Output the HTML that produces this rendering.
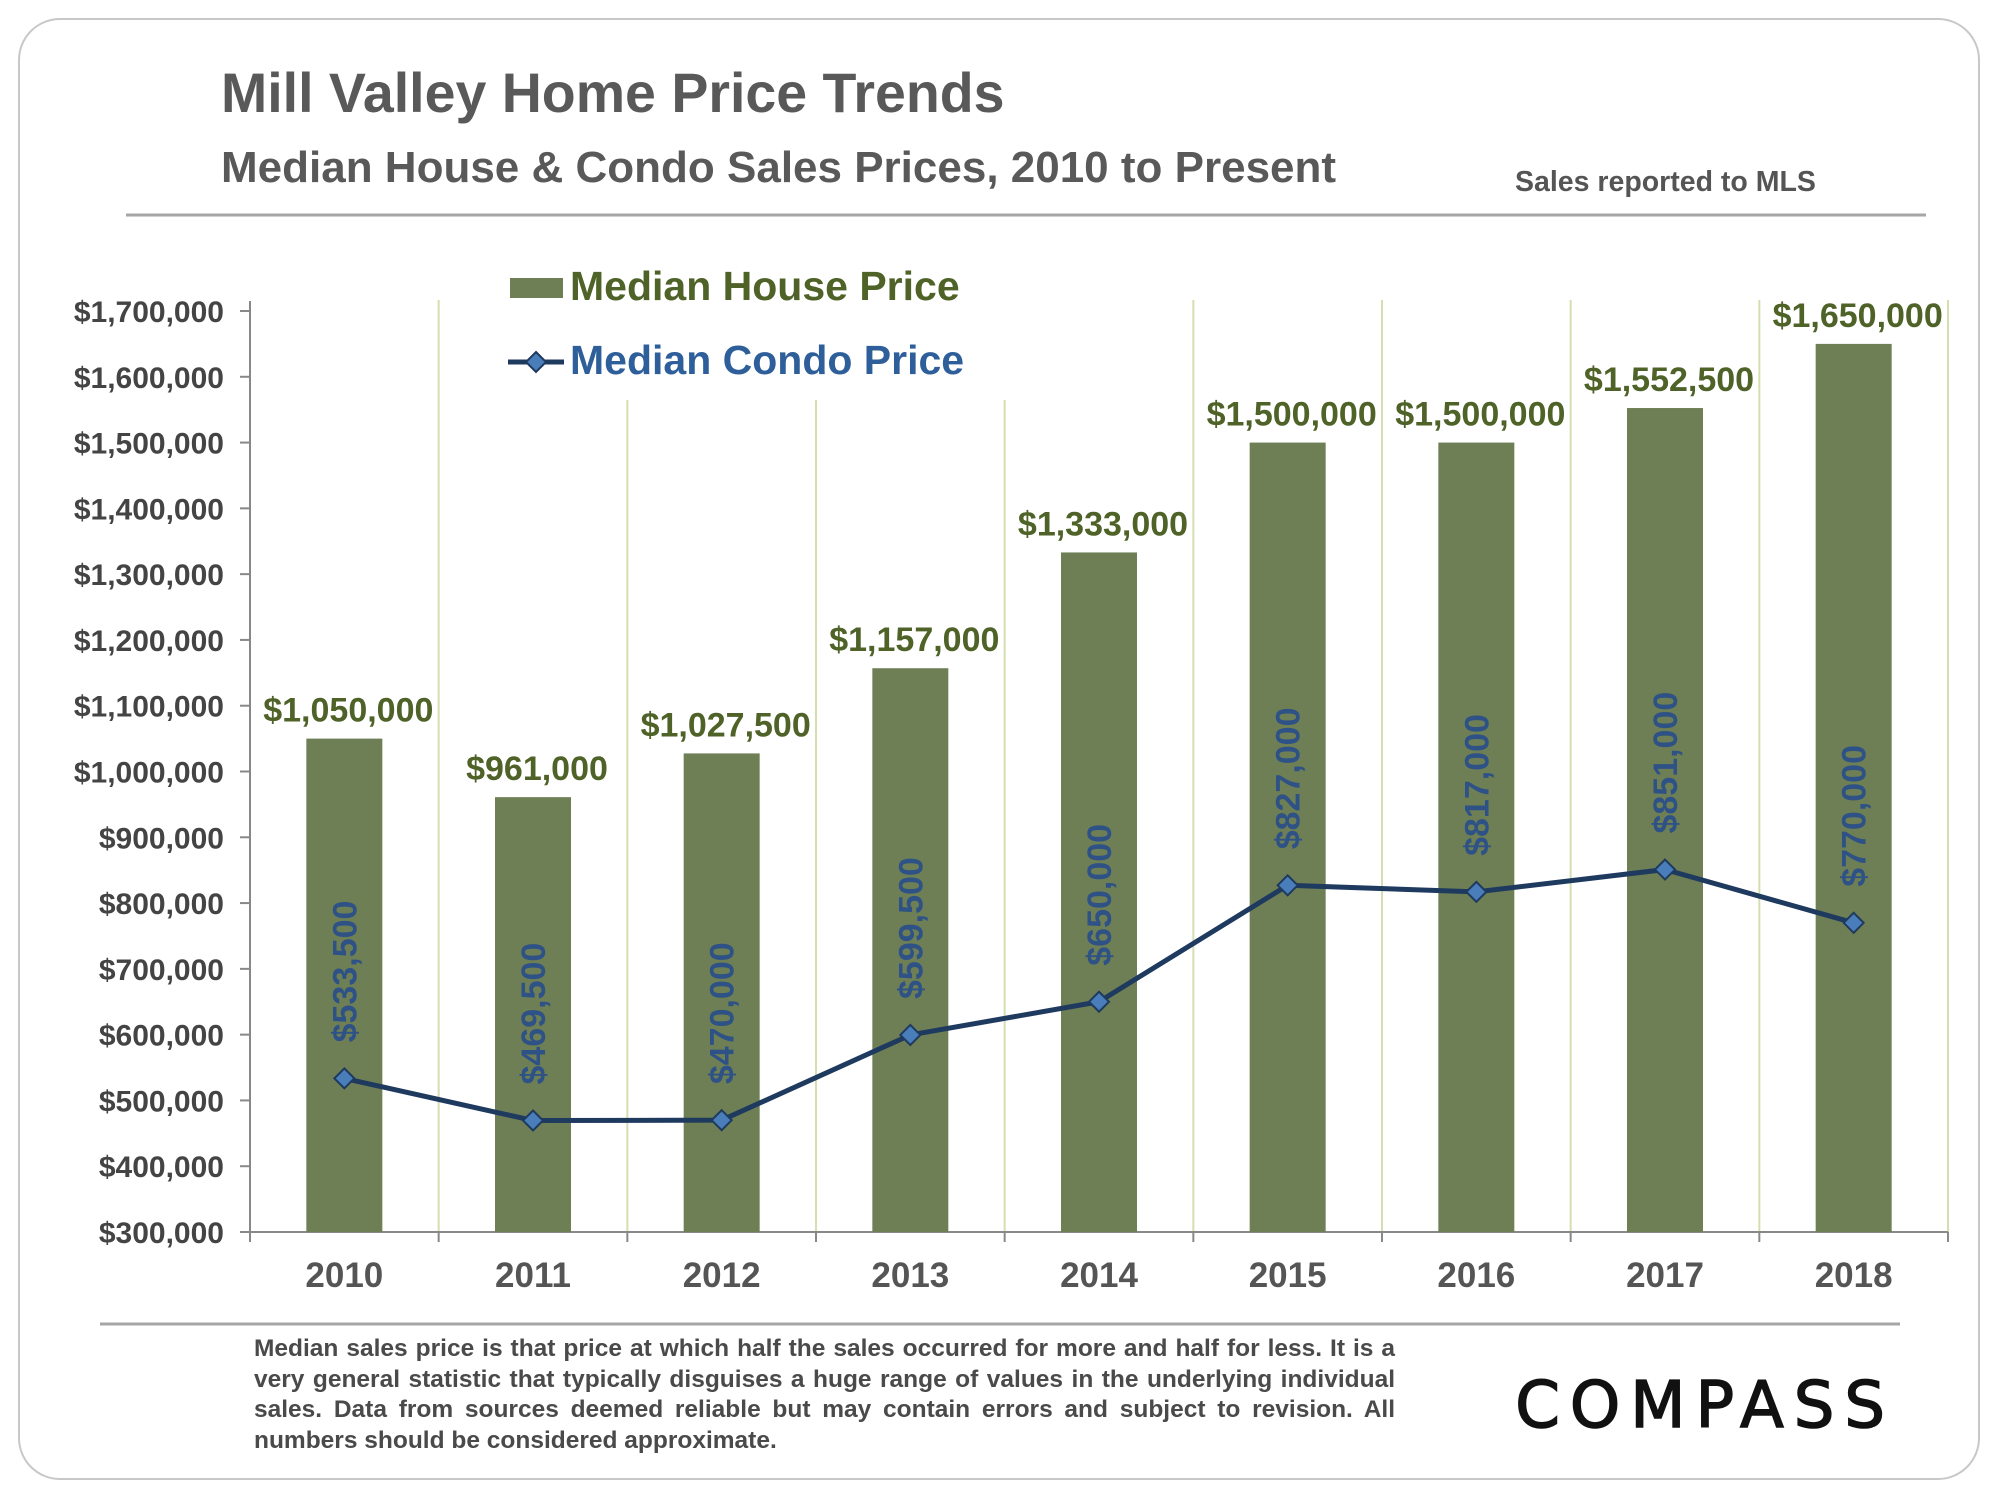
<!DOCTYPE html>
<html><head><meta charset="utf-8">
<style>
body{margin:0;width:2000px;height:1500px;background:#fff;overflow:hidden;font-family:"Liberation Sans",Arial,sans-serif;}
#frame{position:absolute;left:18px;top:18px;width:1962px;height:1462px;border:2px solid #c8c8c8;border-radius:42px;box-sizing:border-box;}
.t{position:absolute;white-space:nowrap;font-weight:bold;}
</style></head><body>
<div id="frame"></div>
<div class="t" style="left:221px;top:61px;font-size:55.5px;color:#595959;">Mill Valley Home Price Trends</div>
<div class="t" style="left:221px;top:143px;font-size:44px;color:#595959;">Median House &amp; Condo Sales Prices, 2010 to Present</div>
<div class="t" style="left:1515px;top:166px;font-size:28.5px;color:#555;font-family:'Liberation Sans Narrow','Liberation Sans',sans-serif;">Sales reported to MLS</div>
<svg width="2000" height="1500" style="position:absolute;left:0;top:0" id="chart">
<line x1="126" y1="215" x2="1926" y2="215" stroke="#a6a6a6" stroke-width="3"/>
<line x1="100" y1="1324" x2="1900" y2="1324" stroke="#a6a6a6" stroke-width="3"/>
<g id="plot"></g>
<g>
<rect x="510" y="278" width="53" height="20" fill="#6e7f55"/>
<text x="570" y="300" font-size="41" font-weight="bold" fill="#4f6228">Median House Price</text>
<line x1="508" y1="362" x2="564" y2="362" stroke="#1f3a5f" stroke-width="5"/>
<path d="M536 352 L546 362 L536 372 L526 362 Z" fill="#4a7ebb" stroke="#1f3a5f" stroke-width="2"/>
<text x="570" y="374" font-size="41" font-weight="bold" fill="#2e5f9a">Median Condo Price</text>
</g>
<text x="1895" y="1427" font-size="64" fill="#111" stroke="#111" stroke-width="1.5" text-anchor="end" letter-spacing="10" style="font-family:'DejaVu Sans','Liberation Sans',sans-serif">COMPASS</text>
</svg>
<div style="position:absolute;left:254px;top:1334px;width:1141px;font-size:24.5px;line-height:30.5px;font-weight:bold;color:#4a4a4a;text-align:justify;font-family:'Liberation Sans Narrow','Liberation Sans',sans-serif;">Median sales price is that price at which half the sales occurred for more and half for less. It is a very general statistic that typically disguises a huge range of values in the underlying individual sales. Data from sources deemed reliable but may contain errors and subject to revision. All numbers should be considered approximate.</div>
<script>
const years = ['2010','2011','2012','2013','2014','2015','2016','2017','2018'];
const housePrices = [1050000,961000,1027500,1157000,1333000,1500000,1500000,1552500,1650000];
const condoPrices = [533500,469500,470000,599500,650000,827000,817000,851000,770000];
const yTicks = [300000,400000,500000,600000,700000,800000,900000,1000000,1100000,1200000,1300000,1400000,1500000,1600000,1700000];

const NS='http://www.w3.org/2000/svg';
const L=250,R=1948,T=311,B=1232,ymin=300000,ymax=1700000;
const bw=(R-L)/years.length;
const y=v=>B-(v-ymin)/(ymax-ymin)*(B-T);
const xc=i=>L+(i+0.5)*bw;
const fmt=v=>'$'+v.toLocaleString('en-US');
const g=document.getElementById('plot');
function mk(tag,attrs){const e=document.createElementNS(NS,tag);for(const k in attrs)e.setAttribute(k,attrs[k]);g.appendChild(e);return e;}
for(let i=1;i<=years.length;i++){
  const top=(i>=2&&i<=4)?400:300;
  const e=mk('line',{x1:L+i*bw,x2:L+i*bw,y1:top,y2:B,stroke:'#d3dfb0','stroke-width':2});
  
  
}
let ax=mk('line',{x1:L,x2:L,y1:T-10,y2:B,stroke:'#888','stroke-width':2});


ax=mk('line',{x1:L-10,x2:R,y1:B,y2:B,stroke:'#888','stroke-width':2});


yTicks.forEach(v=>{
  const tk=mk('line',{x1:L-10,x2:L,y1:y(v),y2:y(v),stroke:'#888','stroke-width':2});
  
  
  const t=mk('text',{x:L-26,y:y(v)+11,'font-size':30,'font-weight':'bold',fill:'#444','text-anchor':'end'});
  t.textContent=fmt(v);
  
  
});
for(let i=0;i<=years.length;i++){
  const tk=mk('line',{x1:L+i*bw,x2:L+i*bw,y1:B,y2:B+10,stroke:'#888','stroke-width':2});
  
  
}
years.forEach((yr,i)=>{
  const t=mk('text',{x:xc(i),y:1287,'font-size':35,'font-weight':'bold',fill:'#555','text-anchor':'middle'});
  t.textContent=yr;
  
  
});
housePrices.forEach((v,i)=>{
  const r=mk('rect',{x:xc(i)-38,y:y(v),width:76,height:B-y(v),fill:'#6e7f55'});
  
  
  const t=mk('text',{x:xc(i)+4,y:y(v)-17,'font-size':34,'font-weight':'bold',fill:'#4f6228','text-anchor':'middle',style:"font-family:'Liberation Sans Narrow','Liberation Sans',sans-serif"});
  t.textContent=fmt(v);
  
  
});
const pts=condoPrices.map((v,i)=>xc(i)+','+y(v)).join(' ');
const pl=mk('polyline',{points:pts,fill:'none',stroke:'#1f3a5f','stroke-width':5,'stroke-linejoin':'round'});


condoPrices.forEach((v,i)=>{
  const cx=xc(i),cy=y(v);
  const m=mk('path',{d:`M${cx} ${cy-10} L${cx+10} ${cy} L${cx} ${cy+10} L${cx-10} ${cy} Z`,fill:'#4a7ebb',stroke:'#1f3a5f','stroke-width':2});
  
  
  const t=mk('text',{x:0,y:0,'font-size':34,'font-weight':'bold',fill:'#2e5286',transform:`translate(${cx+12},${cy-36}) rotate(-90)`,style:"font-family:'Liberation Sans Narrow','Liberation Sans',sans-serif"});
  t.textContent=fmt(v);
  
  
});
</script>
</body></html>
